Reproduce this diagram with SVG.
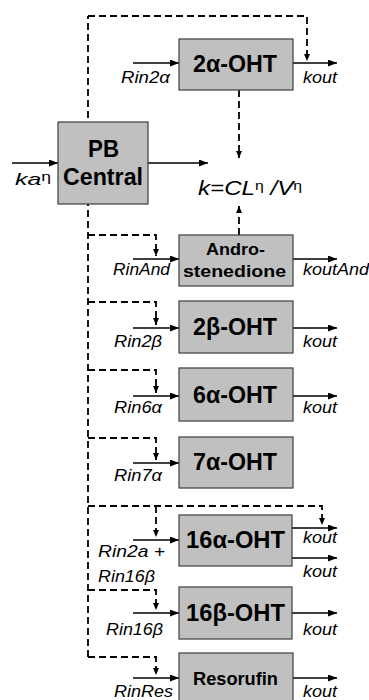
<svg xmlns="http://www.w3.org/2000/svg" width="369" height="700" viewBox="0 0 369 700">
<defs>
<marker id="ah" markerUnits="userSpaceOnUse" markerWidth="9" markerHeight="7" refX="9" refY="3.5" orient="auto"><path d="M0,0 L9,3.5 L0,7 z" fill="#000"/></marker>
<marker id="dh" markerUnits="userSpaceOnUse" markerWidth="7" markerHeight="6" refX="7" refY="3" orient="auto"><path d="M0,0 L7,3 L0,6 z" fill="#000"/></marker>
<style>
.box{fill:#c0c0c0;stroke:#3c3c3c;stroke-width:1.2}
.lbl{font-family:"Liberation Sans",Arial,sans-serif;font-weight:bold;fill:#000}
.it{font-family:"Liberation Sans",Arial,sans-serif;font-style:italic;font-size:17px;fill:#000}
.eta{font-style:normal;font-size:12px}
.sol{stroke:#000;stroke-width:1.3;fill:none;marker-end:url(#ah)}
.dsh{stroke:#000;stroke-width:1.8;fill:none;stroke-dasharray:7,4}
.dsha{stroke:#000;stroke-width:1.8;fill:none;stroke-dasharray:7,4;marker-end:url(#dh)}
</style>
</defs>
<rect width="369" height="700" fill="#fff"/>
<g id="connectors">
<path class="dsh" d="M88,657 V16"/>
<path class="dsha" d="M88,16 H307 V61"/>
<path class="dsha" d="M88,235 H156 V256"/>
<path class="dsha" d="M88,302 H156 V325"/>
<path class="dsha" d="M88,370 H156 V393"/>
<path class="dsha" d="M88,438 H156 V460"/>
<path class="dsha" d="M88,506 H322 V525"/>
<path class="dsha" d="M156,506 V537"/>
<path class="dsha" d="M88,590 H156 V610"/>
<path class="dsha" d="M88,657 H156 V675"/>
<path class="dsha" d="M239,90 V158"/>
<path class="dsha" d="M239,235 V206"/>
<path class="sol" d="M12,163 H58"/>
<path class="sol" d="M148,163 H208"/>
<path class="sol" d="M133,63 H179"/>
<path class="sol" d="M293,63 H337"/>
<path class="sol" d="M133,259 H179"/>
<path class="sol" d="M293,259 H337"/>
<path class="sol" d="M133,328 H179"/>
<path class="sol" d="M293,328 H337"/>
<path class="sol" d="M133,396 H179"/>
<path class="sol" d="M293,396 H337"/>
<path class="sol" d="M133,463 H179"/>
<path class="sol" d="M133,540 H179"/>
<path class="sol" d="M292,528 H337"/>
<path class="sol" d="M292,558 H337"/>
<path class="sol" d="M133,613 H179"/>
<path class="sol" d="M292,613 H337"/>
<path class="sol" d="M133,678 H179"/>
<path class="sol" d="M293,678 H337"/>
</g>
<g id="pb-central">
<rect class="box" x="58" y="122" width="90" height="82"/>
<text class="lbl" x="88" y="157" font-size="23" textLength="31" lengthAdjust="spacingAndGlyphs">PB</text>
<text class="lbl" x="63" y="185" font-size="23" textLength="80" lengthAdjust="spacingAndGlyphs">Central</text>
<text class="it" x="15" y="185" textLength="36" lengthAdjust="spacingAndGlyphs">ka<tspan class="eta" dy="-4">η</tspan></text>
</g>
<g id="formula">
<text class="it" x="198" y="195" style="font-size:20px" textLength="104" lengthAdjust="spacingAndGlyphs">k=CL<tspan class="eta" style="font-size:13px" dy="-5">η</tspan><tspan dy="5"> /V</tspan><tspan class="eta" style="font-size:13px" dy="-5">η</tspan></text>
</g>
<g id="oht2a">
<rect class="box" x="179" y="39" width="114" height="51"/>
<text class="lbl" x="193" y="72" font-size="23" textLength="84" lengthAdjust="spacingAndGlyphs">2α-OHT</text>
<text class="it" x="121" y="83" textLength="49" lengthAdjust="spacingAndGlyphs">Rin2α</text>
<text class="it" x="303" y="83" textLength="34" lengthAdjust="spacingAndGlyphs">kout</text>
</g>
<g id="androstenedione">
<rect class="box" x="179" y="235" width="114" height="51"/>
<text class="lbl" x="206" y="255" font-size="17" textLength="59" lengthAdjust="spacingAndGlyphs">Andro-</text>
<text class="lbl" x="183" y="277" font-size="17" textLength="103" lengthAdjust="spacingAndGlyphs">stenedione</text>
<text class="it" x="113" y="275" textLength="57" lengthAdjust="spacingAndGlyphs">RinAnd</text>
<text class="it" x="303" y="275" textLength="66" lengthAdjust="spacingAndGlyphs">koutAnd</text>
</g>
<g id="oht2b">
<rect class="box" x="179" y="301" width="114" height="52"/>
<text class="lbl" x="193" y="335" font-size="23" textLength="84" lengthAdjust="spacingAndGlyphs">2β-OHT</text>
<text class="it" x="114" y="347" textLength="48" lengthAdjust="spacingAndGlyphs">Rin2β</text>
<text class="it" x="303" y="347" textLength="34" lengthAdjust="spacingAndGlyphs">kout</text>
</g>
<g id="oht6a">
<rect class="box" x="179" y="368" width="114" height="53"/>
<text class="lbl" x="193" y="403" font-size="23" textLength="84" lengthAdjust="spacingAndGlyphs">6α-OHT</text>
<text class="it" x="114" y="413" textLength="48" lengthAdjust="spacingAndGlyphs">Rin6α</text>
<text class="it" x="303" y="413" textLength="34" lengthAdjust="spacingAndGlyphs">kout</text>
</g>
<g id="oht7a">
<rect class="box" x="179" y="437" width="114" height="51"/>
<text class="lbl" x="193" y="470" font-size="23" textLength="84" lengthAdjust="spacingAndGlyphs">7α-OHT</text>
<text class="it" x="114" y="481" textLength="48" lengthAdjust="spacingAndGlyphs">Rin7α</text>
</g>
<g id="oht16a">
<rect class="box" x="179" y="515" width="113" height="51"/>
<text class="lbl" x="186" y="548" font-size="23" textLength="99" lengthAdjust="spacingAndGlyphs">16α-OHT</text>
<text class="it" x="98" y="557" textLength="67" lengthAdjust="spacingAndGlyphs">Rin2a +</text>
<text class="it" x="98" y="582" textLength="57" lengthAdjust="spacingAndGlyphs">Rin16β</text>
<text class="it" x="303" y="543" textLength="34" lengthAdjust="spacingAndGlyphs">kout</text>
<text class="it" x="303" y="577" textLength="34" lengthAdjust="spacingAndGlyphs">kout</text>
</g>
<g id="oht16b">
<rect class="box" x="179" y="587" width="113" height="52"/>
<text class="lbl" x="186" y="621" font-size="23" textLength="99" lengthAdjust="spacingAndGlyphs">16β-OHT</text>
<text class="it" x="106" y="635" textLength="57" lengthAdjust="spacingAndGlyphs">Rin16β</text>
<text class="it" x="303" y="635" textLength="34" lengthAdjust="spacingAndGlyphs">kout</text>
</g>
<g id="resorufin">
<rect class="box" x="179" y="653" width="114" height="52"/>
<text class="lbl" x="193" y="685" font-size="17.5" textLength="85" lengthAdjust="spacingAndGlyphs">Resorufin</text>
<text class="it" x="114" y="697" textLength="59" lengthAdjust="spacingAndGlyphs">RinRes</text>
<text class="it" x="303" y="697" textLength="34" lengthAdjust="spacingAndGlyphs">kout</text>
</g>
</svg>
